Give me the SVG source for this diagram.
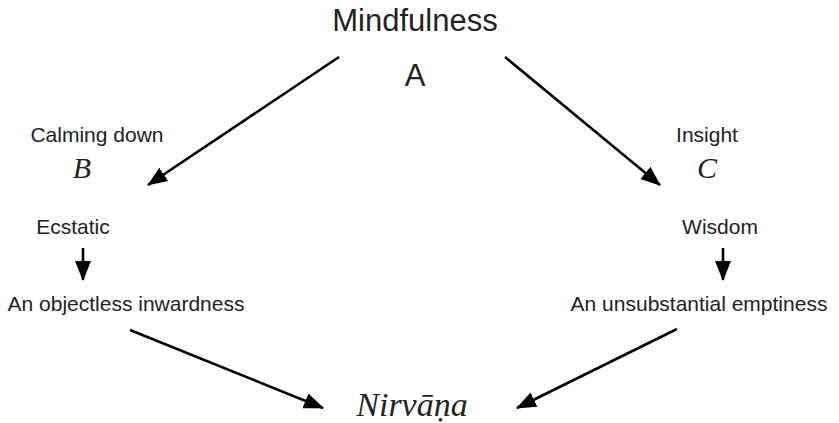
<svg xmlns="http://www.w3.org/2000/svg" width="839" height="423" viewBox="0 0 839 423">
<style>
.sans{font-family:"Liberation Sans",Arial,sans-serif;fill:#222;text-anchor:middle}
.big{font-size:31px}
.small{font-size:21px}
.ital{font-family:"Liberation Serif","Times New Roman",serif;font-style:italic;fill:#222;text-anchor:middle}
.edge{stroke:#000;stroke-width:2.6;fill:none;marker-end:url(#ah)}
</style>
<defs>
<marker id="ah" markerUnits="userSpaceOnUse" markerWidth="20" markerHeight="16" refX="19" refY="8" orient="auto" viewBox="0 0 20 16">
<path d="M0,0 L20,8 L0,16 z" fill="#000"/>
</marker>
</defs>
<rect width="839" height="423" fill="#fff"/>
<g id="mindfulness">
<text class="sans big" x="415" y="31">Mindfulness</text>
<text class="sans big" x="415" y="86">A</text>
</g>
<g id="calming">
<text class="sans small" x="97" y="142">Calming down</text>
<text class="ital" x="82" y="178" font-size="30">B</text>
</g>
<g id="insight">
<text class="sans small" x="707" y="142">Insight</text>
<text class="ital" x="707" y="178" font-size="30">C</text>
</g>
<g id="ecstatic"><text class="sans small" x="73" y="234">Ecstatic</text></g>
<g id="wisdom"><text class="sans small" x="720" y="234">Wisdom</text></g>
<g id="inwardness"><text class="sans small" x="126" y="311">An objectless inwardness</text></g>
<g id="emptiness"><text class="sans small" x="699" y="311">An unsubstantial emptiness</text></g>
<g id="nirvana"><text class="ital" x="412" y="416" font-size="34">Nirvāṇa</text></g>
<g id="connectors">
<line class="edge" x1="339" y1="57" x2="148" y2="185"/>
<line class="edge" x1="505" y1="57" x2="660" y2="185"/>
<line class="edge" x1="83" y1="248" x2="83" y2="280"/>
<line class="edge" x1="723" y1="248" x2="723" y2="280"/>
<line class="edge" x1="130" y1="330" x2="323" y2="408"/>
<line class="edge" x1="677" y1="329" x2="517" y2="408"/>
</g>
</svg>
